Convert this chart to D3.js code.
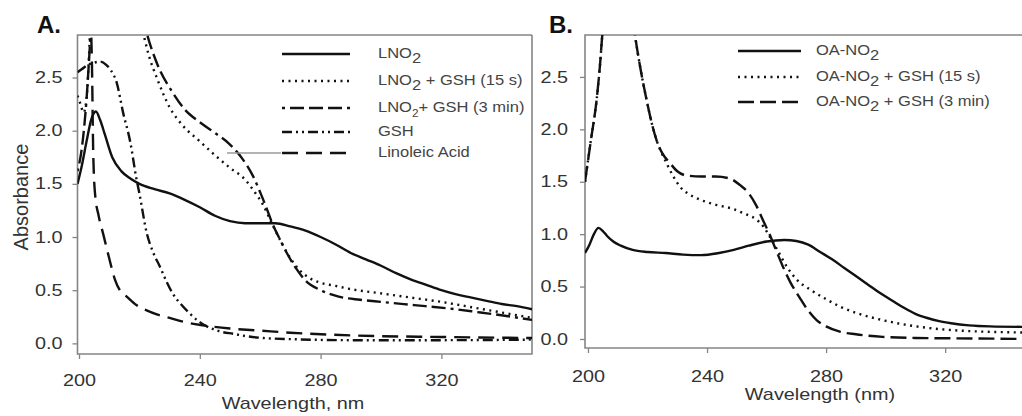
<!DOCTYPE html>
<html>
<head>
<meta charset="utf-8">
<script src="https://cdn.jsdelivr.net/npm/d3@7/dist/d3.min.js"></script>
<style>
body { margin: 0; background: #fff; }
svg { display: block; font-family: "Liberation Sans", Arial, sans-serif; }
</style>
</head>
<body>
<svg id="chart" width="1022" height="416"></svg>
<script>
// ---- panel A : LNO2 spectra, [wavelength nm, absorbance] ----
var lno2 = [[199.5,1.5],[201,1.68],[202.5,1.9],[204,2.1],[205.6,2.18],[207,2.1],[208.5,1.97],[211,1.75],
    [214,1.62],[217,1.55],[220,1.5],[225,1.45],[230,1.41],[235,1.35],[240,1.28],[245,1.2],[250,1.15],
    [255,1.13],[260,1.13],[265,1.13],[270,1.1],[275,1.06],[280,1.0],[285,0.93],[290,0.85],[295,0.79],
    [300,0.73],[305,0.66],[310,0.6],[315,0.55],[320,0.5],[325,0.46],[330,0.43],[335,0.4],[340,0.37],
    [345,0.35],[350,0.32]];
var lno2Gsh15s = [[199.5,2.33],[200.5,2.25],[201.5,2.17],[202.5,2.3],[203.3,2.7],[204,3.1],[210,3.4],
    [219,3.2],[221,2.95],[223,2.72],[226,2.48],[230,2.22],[234,2.06],[240,1.9],[245,1.77],[250,1.65],
    [255,1.54],[258,1.43],[261,1.3],[264,1.12],[267,0.95],[270,0.8],[273,0.69],[276,0.62],[280,0.57],
    [285,0.54],[290,0.51],[300,0.47],[310,0.43],[320,0.39],[330,0.34],[340,0.29],[350,0.24]];
var lno2Gsh3min = [[199.5,1.62],[201,1.85],[202.5,2.3],[203.5,2.75],[204.2,3.1],[210,3.4],[220,3.2],
    [222.4,2.92],[226,2.62],[231,2.36],[235,2.2],[240,2.08],[245,1.98],[250,1.87],[254,1.74],[257.5,1.58],
    [260,1.42],[262,1.28],[264,1.13],[266.5,0.98],[269,0.84],[272,0.7],[275,0.59],[280,0.5],[286,0.44],
    [293,0.41],[300,0.39],[311,0.36],[322,0.33],[333,0.29],[341,0.26],[350,0.22]];
var gsh = [[199.5,2.55],[201,2.58],[203,2.62],[205,2.64],[207,2.65],[209,2.62],[210.5,2.57],[212.5,2.45],
    [214.6,2.17],[217,1.89],[219,1.55],[220,1.41],[222.4,1.04],[224.5,0.86],[226.8,0.72],[229,0.58],
    [231,0.47],[234,0.36],[236.7,0.28],[240,0.2],[243,0.15],[247,0.11],[251,0.09],[256,0.065],[261,0.05],
    [270,0.04],[290,0.03],[320,0.03],[350,0.035]];
var linoleicAcid = [[203.8,3.1],[204.3,2.6],[204.7,1.8],[205.3,1.41],[206.5,1.2],[208,1.03],[210,0.8],
    [211.9,0.6],[213.5,0.5],[215.8,0.44],[219,0.36],[222.4,0.31],[226,0.27],[230,0.24],[235,0.2],
    [241,0.17],[250,0.14],[260,0.12],[270,0.1],[290,0.075],[320,0.06],[350,0.05]];

// ---- panel B : OA-NO2 spectra ----
var oaNo2 = [[199,0.82],[200.5,0.9],[202,1.0],[203.5,1.06],[205,1.03],[206.5,0.98],[208.5,0.93],[211,0.89],
    [215,0.85],[220,0.83],[226,0.82],[232,0.805],[238,0.8],[244,0.82],[249,0.85],[254,0.89],[260,0.93],
    [266,0.945],[270,0.935],[274,0.9],[278,0.83],[282,0.76],[286,0.68],[290,0.6],[294,0.52],[298,0.44],
    [302,0.37],[306,0.3],[310,0.24],[314,0.2],[318,0.17],[322,0.15],[328,0.13],[335,0.12],[348.5,0.115]];
var oaNo2Gsh15s = [[199,1.5],[201,1.9],[202.9,2.28],[204,2.6],[205,2.95],[210,3.5],[214,3.3],[215.8,2.9],
    [217.5,2.6],[219.7,2.28],[221.5,2.05],[223,1.9],[224.5,1.79],[226,1.7],[228.5,1.56],[231,1.45],
    [234,1.38],[237.6,1.33],[243,1.28],[248.8,1.24],[253,1.19],[256.6,1.14],[259,1.07],[261,0.98],
    [264,0.83],[266.8,0.69],[270,0.57],[274.7,0.47],[280,0.38],[284.6,0.31],[290,0.25],[299,0.18],
    [308,0.13],[316,0.1],[325,0.08],[332.7,0.07],[340,0.065],[348.5,0.06]];
var oaNo2Gsh3min = [[199,1.5],[201,1.9],[202.9,2.28],[204,2.6],[205,2.95],[210,3.5],[214,3.3],[215.8,2.9],
    [217.5,2.6],[219.7,2.28],[221.5,2.05],[223,1.9],[225,1.77],[227.5,1.68],[230,1.6],[233,1.56],
    [238,1.55],[243,1.55],[247.7,1.53],[251,1.47],[254,1.39],[256.6,1.27],[259,1.12],[261,1.0],
    [263,0.86],[265.5,0.69],[268,0.54],[271,0.4],[274,0.27],[276.8,0.18],[280,0.12],[284.6,0.07],
    [290,0.045],[299,0.02],[310,0.01],[330,0.005],[348.5,0.0]];

// ---- ticks and labels ----
var xTicks = [200, 240, 280, 320];
var yTicks = [0, 0.5, 1.0, 1.5, 2.0, 2.5];
var legendA = [["LNO", "2", ""], ["LNO", "2", " + GSH (15 s)"], ["LNO", "2", "+ GSH (3 min)"],
    ["GSH", "", ""], ["Linoleic Acid", "", ""]];
var legendB = [["OA-NO", "2", ""], ["OA-NO", "2", " + GSH (15 s)"], ["OA-NO", "2", " + GSH (3 min)"]];

var svg = d3.select("#chart");
var SX = 1.24;   // the source picture is stretched sideways

// scale text sideways around its own anchor point
function stretch(sel, sx){
    sel.each(function(){
        var t = d3.select(this);
        var x = +t.attr("x") || 0, y = +t.attr("y") || 0;
        t.attr("transform", "translate(" + x + "," + y + ") scale(" + sx + ",1) translate(" + (-x) + "," + (-y) + ")");
    });
}

function drawPanel(p){
    var x = d3.scaleLinear().domain(p.xDomain).range(p.xRange);
    var y = d3.scaleLinear().domain(p.yDomain).range(p.yRange);
    var g = svg.append("g");

    g.append("clipPath").attr("id", p.id + "clip")
        .append("rect")
        .attr("x", p.xRange[0]).attr("y", p.yRange[1])
        .attr("width", p.xRange[1] - p.xRange[0])
        .attr("height", p.yRange[0] - p.yRange[1]);

    // frame
    var frame = "M" + p.xRange[1] + "," + p.yRange[1] + "H" + p.xRange[0] + "V" + p.yRange[0] + "H" + p.xRange[1];
    if (p.box) frame += "V" + p.yRange[1];
    g.append("path").attr("d", frame)
        .attr("fill", "none").attr("stroke", "#858585").attr("stroke-width", 1.6);

    var xAxis = g.append("g").attr("transform", "translate(0," + p.yRange[0] + ")")
        .call(d3.axisBottom(x).tickValues(xTicks).tickSize(5).tickPadding(p.xPad).tickFormat(d3.format("d")));
    var yAxis = g.append("g").attr("transform", "translate(" + p.xRange[0] + ",0)")
        .call(d3.axisLeft(y).tickValues(yTicks).tickSize(5).tickPadding(p.yPad).tickFormat(d3.format(".1f")));
    [xAxis, yAxis].forEach(function(a){
        a.select(".domain").remove();
        a.selectAll(".tick line").attr("stroke", "#858585").attr("stroke-width", 1.3);
        a.selectAll(".tick text").attr("fill", "#333").attr("font-size", 16)
            .attr("font-family", "Liberation Sans, Arial, sans-serif");
        stretch(a.selectAll(".tick text"), SX);
    });

    var line = d3.line().curve(d3.curveMonotoneX)
        .x(function(d){ return x(d[0]); })
        .y(function(d){ return y(d[1]); });

    var curves = g.append("g").attr("clip-path", "url(#" + p.id + "clip)");
    p.series.forEach(function(s){
        curves.append("path").datum(s.data)
            .attr("d", line)
            .attr("fill", "none")
            .attr("stroke", "#111")
            .attr("stroke-width", 2.4)
            .attr("stroke-dasharray", s.dash);
    });

    // legend
    var lg = g.append("g");
    p.series.forEach(function(s, i){
        var ly = p.legendRows[i];
        lg.append("line")
            .attr("x1", p.legendX[0]).attr("x2", p.legendX[1])
            .attr("y1", ly).attr("y2", ly)
            .attr("stroke", "#111").attr("stroke-width", 2.6)
            .attr("stroke-dasharray", s.dash);
        var lab = s.label;
        var t = lg.append("text")
            .attr("x", p.legendX[2]).attr("y", ly + 4)
            .attr("font-size", 14).attr("fill", "#444");
        t.append("tspan").text(lab[0]);
        if (lab[1]) {
            t.append("tspan").attr("dy", 5).attr("font-size", s.smallSub ? 10 : 14).text(lab[1]);
            t.append("tspan").attr("dy", -5).text(lab[2]);
        }
        stretch(t, 1.18);
    });

    var title = g.append("text")
        .attr("x", p.titlePos[0]).attr("y", p.titlePos[1])
        .attr("text-anchor", "middle").attr("font-size", 16).attr("fill", "#333")
        .text(p.xTitle);
    stretch(title, SX);

    g.append("text").attr("x", p.tagPos[0]).attr("y", p.tagPos[1])
        .attr("font-size", 24).attr("font-weight", "bold").attr("fill", "#111")
        .text(p.tag);
    return g;
}

drawPanel({
    id: "a", tag: "A.", tagPos: [37, 33], box: true,
    xDomain: [199.5, 350], xRange: [77.5, 532],
    yDomain: [-0.1, 2.9], yRange: [354, 35],
    xPad: 16, yPad: 10,
    xTitle: "Wavelength, nm", titlePos: [293, 409],
    legendX: [282, 350, 378], legendRows: [54, 81, 108, 132, 153],
    series: [
        {data: lno2, dash: null, label: legendA[0]},
        {data: lno2Gsh15s, dash: "2,4.5", label: legendA[1]},
        {data: lno2Gsh3min, dash: "3,5,14,5,14,5,14,5", label: legendA[2], smallSub: true},
        {data: gsh, dash: "10,4,2,4,2,4", label: legendA[3]},
        {data: linoleicAcid, dash: "16,8", label: legendA[4]}
    ]
});

drawPanel({
    id: "b", tag: "B.", tagPos: [549, 33], box: false,
    xDomain: [199, 348.5], xRange: [585, 1030],
    yDomain: [-0.086, 2.9], yRange: [348, 35],
    xPad: 18, yPad: 12,
    xTitle: "Wavelength (nm)", titlePos: [820, 400],
    legendX: [738, 801, 816], legendRows: [51, 77, 102],
    series: [
        {data: oaNo2, dash: null, label: legendB[0]},
        {data: oaNo2Gsh15s, dash: "2,4.5", label: legendB[1]},
        {data: oaNo2Gsh3min, dash: "16,6", label: legendB[2]}
    ]
});

// stray grey leader line next to the "Linoleic Acid" legend entry
svg.append("line").attr("x1", 227).attr("x2", 281).attr("y1", 153).attr("y2", 153)
    .attr("stroke", "#9a9a9a").attr("stroke-width", 1.6);

// shared y title
svg.append("text")
    .attr("transform", "translate(28,197) rotate(-90)")
    .attr("text-anchor", "middle").attr("font-size", 20).attr("fill", "#333")
    .text("Absorbance");
</script>
</body>
</html>
